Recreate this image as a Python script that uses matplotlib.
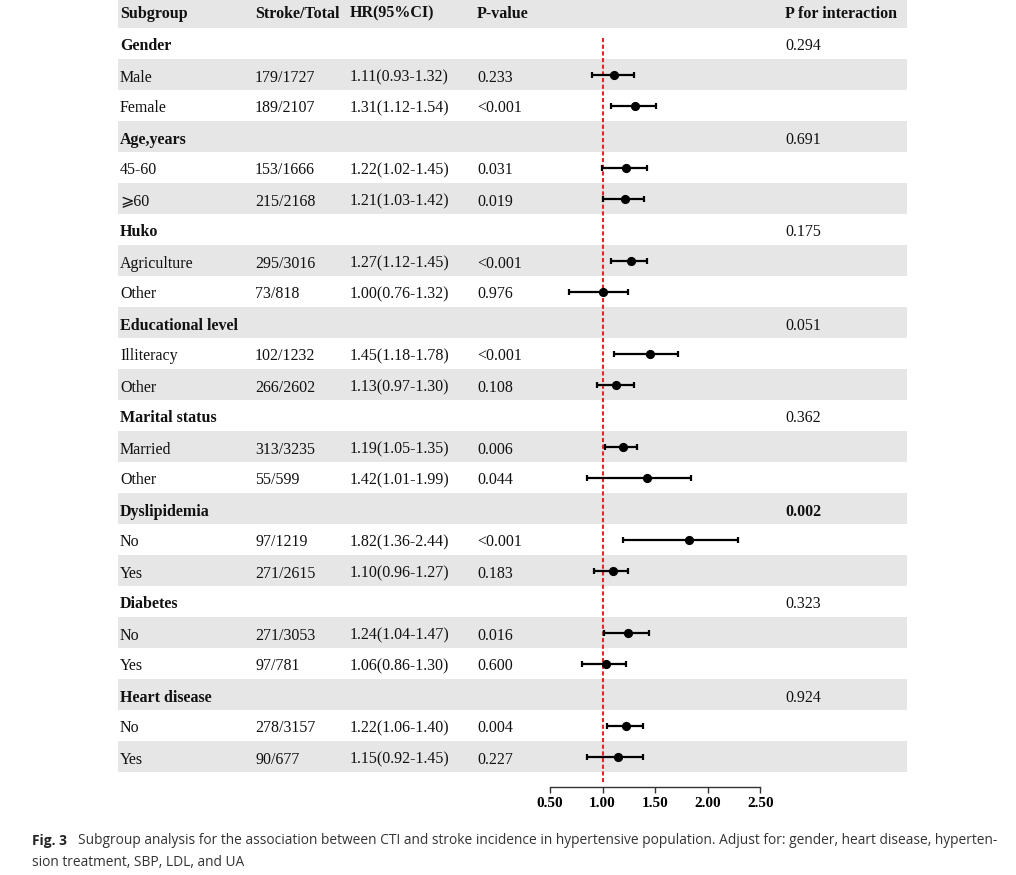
import matplotlib
matplotlib.use("Agg")
import matplotlib.pyplot as plt
import numpy as np

# ---------------- data ----------------
headers = ["Subgroup", "Stroke/Total", "HR(95%CI)", "P-value", "P for interaction"]

labels = ["Gender", "Male", "Female",
          "Age,years", "45-60", "\u2a7e60",
          "Huko", "Agriculture", "Other",
          "Educational level", "Illiteracy", "Other",
          "Marital status", "Married", "Other",
          "Dyslipidemia", "No", "Yes",
          "Diabetes", "No", "Yes",
          "Heart disease", "No", "Yes"]
is_group = [True, False, False] * 8

counts = ["", "179/1727", "189/2107",
          "", "153/1666", "215/2168",
          "", "295/3016", "73/818",
          "", "102/1232", "266/2602",
          "", "313/3235", "55/599",
          "", "97/1219", "271/2615",
          "", "271/3053", "97/781",
          "", "278/3157", "90/677"]

hr_text = ["", "1.11(0.93-1.32)", "1.31(1.12-1.54)",
           "", "1.22(1.02-1.45)", "1.21(1.03-1.42)",
           "", "1.27(1.12-1.45)", "1.00(0.76-1.32)",
           "", "1.45(1.18-1.78)", "1.13(0.97-1.30)",
           "", "1.19(1.05-1.35)", "1.42(1.01-1.99)",
           "", "1.82(1.36-2.44)", "1.10(0.96-1.27)",
           "", "1.24(1.04-1.47)", "1.06(0.86-1.30)",
           "", "1.22(1.06-1.40)", "1.15(0.92-1.45)"]

# plotted point estimates and whisker ends, as drawn in the figure
hr = [np.nan, 1.11, 1.31,
      np.nan, 1.22, 1.21,
      np.nan, 1.27, 1.00,
      np.nan, 1.45, 1.13,
      np.nan, 1.19, 1.42,
      np.nan, 1.82, 1.10,
      np.nan, 1.24, 1.03,
      np.nan, 1.22, 1.15]
lo = [np.nan, 0.90, 1.08,
      np.nan, 0.99, 1.00,
      np.nan, 1.08, 0.68,
      np.nan, 1.11, 0.95,
      np.nan, 1.02, 0.85,
      np.nan, 1.19, 0.92,
      np.nan, 1.01, 0.80,
      np.nan, 1.04, 0.85]
hi = [np.nan, 1.30, 1.51,
      np.nan, 1.42, 1.39,
      np.nan, 1.42, 1.24,
      np.nan, 1.72, 1.30,
      np.nan, 1.33, 1.84,
      np.nan, 2.29, 1.24,
      np.nan, 1.44, 1.22,
      np.nan, 1.38, 1.38]

pvals = ["", "0.233", "<0.001",
         "", "0.031", "0.019",
         "", "<0.001", "0.976",
         "", "<0.001", "0.108",
         "", "0.006", "0.044",
         "", "<0.001", "0.183",
         "", "0.016", "0.600",
         "", "0.004", "0.227"]

p_inter = ["0.294", "", "",
           "0.691", "", "",
           "0.175", "", "",
           "0.051", "", "",
           "0.362", "", "",
           "0.002", "", "",
           "0.323", "", "",
           "0.924", "", ""]
p_inter_bold = [False] * 15 + [True] + [False] * 8

xticks = [0.50, 1.00, 1.50, 2.00, 2.50]
xtick_labels = ["0.50", "1.00", "1.50", "2.00", "2.50"]

caption_bold = "Fig. 3"
caption_line1 = ("Subgroup analysis for the association between CTI and stroke incidence "
                 "in hypertensive population. Adjust for: gender, heart disease, hyperten-")
caption_line2 = "sion treatment, SBP, LDL, and UA"

# ---------------- layout ----------------
W, H, DPI = 1016, 875, 100
fig = plt.figure(figsize=(W / DPI, H / DPI), dpi=DPI)
fig.patch.set_facecolor("white")

row_h = 31.0
row0 = 12.5          # pixel centre of header row
def r_of(px):
    return (px - row0) / row_h

serif = ["Liberation Serif", "DejaVu Serif", "DejaVu Sans"]
fs = 11.5
band_col = "#e6e6e6"
txt_col = "#111111"
base_off = 7.0 / row_h   # baseline offset below row centre

# table axes: x in pixels, y in row units
ax_t = fig.add_axes([0, 0, 1, 1])
ax_t.set_xlim(0, W)
ax_t.set_ylim(r_of(H), r_of(0))
ax_t.axis("off")

nrows = len(labels) + 1
for r in range(nrows):
    if r % 2 == 0:
        ax_t.fill_between([118, 907], r - 0.5, r + 0.5, color=band_col, lw=0, zorder=0)

col_x = [120, 255, 350, 477, 785]
for cx, h in zip(col_x, headers):
    ax_t.text(cx, r_of(17.5), h, fontsize=fs, fontweight="bold", family=serif,
              va="baseline", ha="left", color=txt_col)

for i in range(len(labels)):
    y = i + 1 + base_off
    ax_t.text(col_x[0], y, labels[i], fontsize=fs,
              fontweight="bold" if is_group[i] else "normal",
              family=serif, va="baseline", ha="left", color=txt_col)
    if counts[i]:
        ax_t.text(col_x[1], y, counts[i], fontsize=fs, family=serif,
                  va="baseline", ha="left", color=txt_col)
    if hr_text[i]:
        ax_t.text(col_x[2], y, hr_text[i], fontsize=fs,
                  family=serif, va="baseline", ha="left", color=txt_col)
    if pvals[i]:
        ax_t.text(col_x[3], y, pvals[i], fontsize=fs, family=serif,
                  va="baseline", ha="left", color=txt_col)
    if p_inter[i]:
        ax_t.text(col_x[4], y, p_inter[i], fontsize=fs, family=serif,
                  fontweight="bold" if p_inter_bold[i] else "normal",
                  va="baseline", ha="left", color=txt_col)

# caption
cap_font = ["Open Sans", "DejaVu Sans"]
ax_t.text(32, r_of(841), caption_bold, fontsize=9.9, fontweight="bold",
          family=cap_font, va="center", ha="left", color="#222222")
ax_t.text(78, r_of(841), caption_line1, fontsize=9.9, family=cap_font,
          va="center", ha="left", color="#333333")
ax_t.text(32, r_of(862), caption_line2, fontsize=9.9, family=cap_font,
          va="center", ha="left", color="#333333")

# forest axes
x0_px, x1_px, axis_px = 550, 760.3, 787
ax_f = fig.add_axes([x0_px / W, (H - axis_px) / H, (x1_px - x0_px) / W, axis_px / H])
ax_f.set_facecolor("none")
ax_f.set_xlim(0.5, 2.5)
ax_f.set_ylim(r_of(axis_px), r_of(0))
for s in ["top", "left", "right"]:
    ax_f.spines[s].set_visible(False)
ax_f.spines["bottom"].set_color("#333333")
ax_f.spines["bottom"].set_linewidth(1.0)
ax_f.set_yticks([])
ax_f.set_xticks(xticks)
ax_f.set_xticklabels(xtick_labels, fontsize=11, fontweight="bold", family=serif)
ax_f.tick_params(axis="x", direction="out", length=4, width=1.0, color="#333333", pad=3.5)

ax_f.vlines(1.0, r_of(38), r_of(784), colors="#e8252a", linestyles=(0, (2.0, 1.2)),
            lw=1.5, zorder=2)

rows = np.arange(1, len(labels) + 1)
hr_a = np.array(hr)
lo_a = np.array(lo)
hi_a = np.array(hi)
m = ~np.isnan(hr_a)
ax_f.errorbar(hr_a[m], rows[m], xerr=[hr_a[m] - lo_a[m], hi_a[m] - hr_a[m]],
              fmt="o", color="black", ms=5.6, ecolor="black", elinewidth=1.6,
              capsize=2.4, capthick=1.6, zorder=3)

fig.savefig("out.png", dpi=DPI)
